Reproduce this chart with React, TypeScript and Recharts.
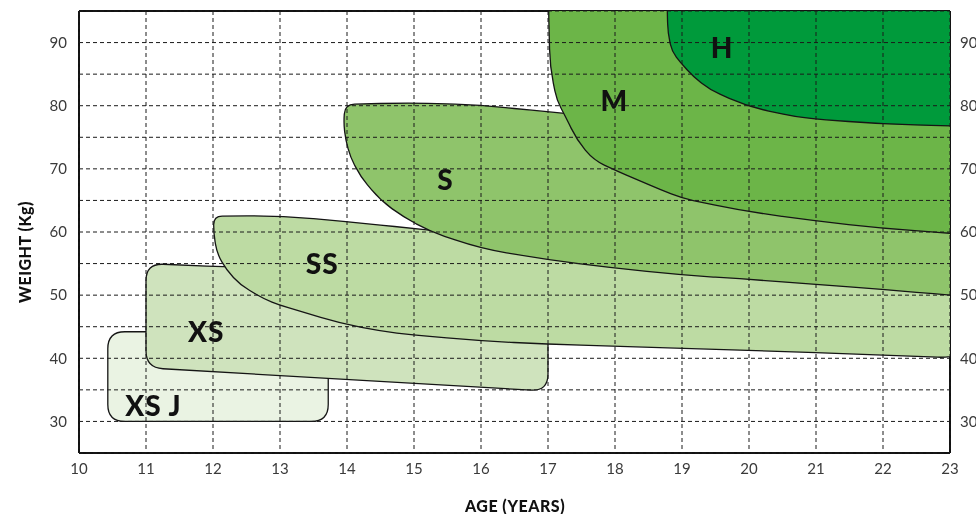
import React from 'react'
import {
  ScatterChart,
  Scatter,
  XAxis,
  YAxis,
  CartesianGrid,
  ReferenceLine,
} from 'recharts'

// axis ticks
const AGE_TICKS = [10, 11, 12, 13, 14, 15, 16, 17, 18, 19, 20, 21, 22, 23]
const WEIGHT_TICKS = [30, 35, 40, 45, 50, 55, 60, 65, 70, 75, 80, 85, 90]

// size zones, outlines as [age, weight]
const XSJ_OUTLINE = [
  [10.43, 44.2], [13.72, 44.2], [13.72, 30.0], [10.43, 30.0],
]
const XS_OUTLINE = [
  [11.0, 55.0], [12.16, 54.5], [13.5, 54.0], [17.0, 52.0], [17.0, 34.8], [11.0, 38.5],
]
const SS_OUTLINE = [
  [12.01, 62.5], [13.0, 62.6], [14.0, 61.65], [15.14, 60.4], [16.0, 59.5], [17.0, 58.5],
  [20.0, 56.5], [23.5, 54.5], [23.5, 39.9], [21.0, 40.9], [18.97, 41.6], [16.99, 42.24],
  [15.99, 42.76], [14.99, 43.7], [14.5, 44.3], [13.9, 45.56], [13.0, 48.4], [12.76, 49.4],
  [12.41, 51.6], [12.2, 54.0], [12.06, 56.6], [12.01, 59.8],
]
const S_OUTLINE = [
  [13.97, 80.2], [14.99, 80.5], [15.99, 80.1], [16.74, 79.3], [17.23, 78.8], [18.0, 78.0],
  [23.5, 75.0], [23.5, 49.6], [23.0, 50.0], [22.0, 50.9], [21.0, 51.7], [20.0, 52.5],
  [18.97, 53.2], [17.98, 54.3], [16.99, 55.6], [15.99, 57.4], [15.24, 60.1], [14.84, 62.4],
  [14.5, 65.0], [14.2, 68.8], [14.05, 71.9], [13.98, 74.6], [13.95, 77.2],
]
const M_OUTLINE = [
  [17.01, 98.0], [17.01, 94.6], [17.03, 86.2], [17.13, 80.9], [17.26, 78.3], [17.43, 74.6],
  [17.68, 71.4], [18.0, 69.8], [18.68, 66.7], [19.0, 65.35], [19.99, 63.2], [20.99, 61.75],
  [21.98, 60.6], [22.98, 59.8], [23.5, 59.5], [23.5, 98.0],
]
const H_OUTLINE = [
  [18.78, 98.0], [18.78, 94.9], [18.79, 91.5], [18.85, 88.6], [18.98, 86.8], [19.17, 84.6],
  [19.42, 82.5], [19.99, 79.85], [20.67, 78.3], [20.99, 77.9], [21.98, 77.1], [22.98, 76.8],
  [23.5, 76.7], [23.5, 98.0],
]

// zone labels
const SIZE_NAMES = ['XS J', 'XS', 'SS', 'S', 'M', 'H']
const LABEL_AGES = [11.11, 11.9, 13.63, 15.47, 17.99, 19.6]
const LABEL_WEIGHTS = [32.6, 44.3, 55.1, 68.4, 80.9, 89.3]

const FONT = 'Lato, "Open Sans", sans-serif'

const toPoints = (outline: number[][]) => outline.map(([age, weight]) => ({ age, weight }))

const labelData = SIZE_NAMES.map((name, i) => ({
  name,
  age: LABEL_AGES[i],
  weight: LABEL_WEIGHTS[i],
}))

const zones = [
  { key: 'xsj', data: toPoints(XSJ_OUTLINE), fill: '#eaf3e3', radius: 17 },
  { key: 'xs', data: toPoints(XS_OUTLINE), fill: '#cfe3bd', radius: 17 },
  { key: 'ss', data: toPoints(SS_OUTLINE), fill: '#bddba3', radius: 60 },
  { key: 's', data: toPoints(S_OUTLINE), fill: '#8fc46b', radius: 60 },
  { key: 'm', data: toPoints(M_OUTLINE), fill: '#6cb548', radius: 60 },
  { key: 'h', data: toPoints(H_OUTLINE), fill: '#009a3b', radius: 60 },
]

// closed path with rounded corners through the pixel points
function roundedPath(pts: { x: number; y: number }[], R: number) {
  const n = pts.length
  let d = ''
  for (let i = 0; i < n; i++) {
    const p = pts[(i - 1 + n) % n]
    const v = pts[i]
    const q = pts[(i + 1) % n]
    const d1 = Math.hypot(p.x - v.x, p.y - v.y) || 1
    const d2 = Math.hypot(q.x - v.x, q.y - v.y) || 1
    const r = Math.min(R, d1 / 2, d2 / 2)
    const ax = v.x + ((p.x - v.x) * r) / d1
    const ay = v.y + ((p.y - v.y) * r) / d1
    const bx = v.x + ((q.x - v.x) * r) / d2
    const by = v.y + ((q.y - v.y) * r) / d2
    d += `${i === 0 ? 'M' : 'L'}${ax},${ay} Q${v.x},${v.y} ${bx},${by} `
  }
  return d + 'Z'
}

const zoneOutline = (fill: string, radius: number) => (props: any) => {
  const pts = (props.points || []).filter((p: any) => p.x != null && p.y != null)
  return <path d={roundedPath(pts, radius)} fill={fill} stroke="#151515" strokeWidth={1.3} />
}

const hideDot = () => <g />

const tickStyle = { fill: '#3a3a3a', fontSize: 15, fontFamily: FONT }
const weightFormatter = (v: number) => (v % 10 === 0 ? String(v) : '')

export default function App() {
  return (
    <div style={{ position: 'fixed', left: 0, top: 0, width: 976, height: 514, fontFamily: FONT }}>
      <ScatterChart width={976} height={514} margin={{ top: 11, right: 0, bottom: 0, left: 0 }}>
        <XAxis
          type="number"
          dataKey="age"
          domain={[10, 23]}
          ticks={AGE_TICKS}
          allowDataOverflow
          height={61}
          tickLine={false}
          tickSize={8}
          tickMargin={2}
          tick={tickStyle}
          axisLine={{ stroke: '#111', strokeWidth: 2 }}
          label={{
            content: () => (
              <text
                x={515}
                y={512}
                textAnchor="middle"
                fontSize={16}
                fontWeight={900}
                letterSpacing={0.5}
                fill="#111"
                fontFamily={FONT}
              >
                AGE (YEARS)
              </text>
            ),
          }}
        />
        <YAxis
          type="number"
          dataKey="weight"
          domain={[25, 95]}
          ticks={WEIGHT_TICKS}
          allowDataOverflow
          width={79}
          tickLine={false}
          tickSize={10}
          tickMargin={2}
          tick={tickStyle}
          tickFormatter={weightFormatter}
          axisLine={{ stroke: '#111', strokeWidth: 2 }}
          label={{
            content: () => (
              <text
                x={31}
                y={252}
                transform="rotate(-90 31 252)"
                textAnchor="middle"
                fontSize={16}
                fontWeight={900}
                letterSpacing={0.5}
                fill="#111"
                fontFamily={FONT}
              >
                WEIGHT (Kg)
              </text>
            ),
          }}
        />
        <YAxis
          yAxisId="right"
          orientation="right"
          type="number"
          domain={[25, 95]}
          ticks={WEIGHT_TICKS}
          allowDataOverflow
          width={26}
          tickLine={false}
          tickSize={8}
          tickMargin={2}
          tick={tickStyle}
          tickFormatter={weightFormatter}
          axisLine={{ stroke: '#111', strokeWidth: 2 }}
        />
        {zones.map((z) => (
          <Scatter
            key={z.key}
            data={z.data}
            line={zoneOutline(z.fill, z.radius)}
            lineType="joint"
            shape={hideDot}
            isAnimationActive={false}
          />
        ))}
        <Scatter
          data={labelData}
          isAnimationActive={false}
          shape={(p: any) => (
            <text
              x={p.cx}
              y={p.cy}
              textAnchor="middle"
              dominantBaseline="central"
              fontSize={28}
              fontWeight={900}
              letterSpacing={1}
              fill="#111"
              fontFamily={FONT}
            >
              {p.payload.name}
            </text>
          )}
        />
        <CartesianGrid stroke="#1a1a1a" strokeDasharray="4 3" zIndex={1000} />
        <ReferenceLine y={95} stroke="#111" strokeWidth={2} />
      </ScatterChart>
    </div>
  )
}
